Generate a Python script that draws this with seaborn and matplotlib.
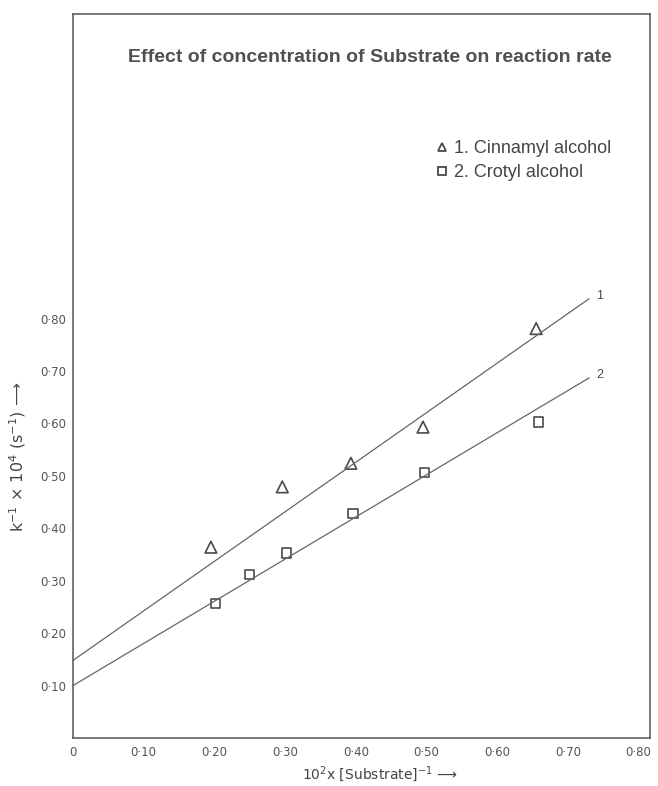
import matplotlib
matplotlib.use("Agg")
import matplotlib.pyplot as plt
from matplotlib.lines import Line2D
import seaborn as sns
import pandas as pd

# ---- data ----
cinnamyl_x = [0.195, 0.296, 0.393, 0.495, 0.655]
cinnamyl_y = [0.364, 0.479, 0.524, 0.593, 0.781]
crotyl_x = [0.202, 0.250, 0.302, 0.396, 0.497, 0.658]
crotyl_y = [0.257, 0.312, 0.353, 0.428, 0.507, 0.603]
line_x = [0.0, 0.730]
line1_y = [0.148, 0.838]
line2_y = [0.100, 0.687]
x_ticks = [0.0, 0.10, 0.20, 0.30, 0.40, 0.50, 0.60, 0.70, 0.80]
x_tick_labels = ["0", "0·10", "0·20", "0·30", "0·40", "0·50", "0·60", "0·70", "0·80"]
y_ticks = [0.10, 0.20, 0.30, 0.40, 0.50, 0.60, 0.70, 0.80]
y_tick_labels = ["0·10", "0·20", "0·30", "0·40", "0·50", "0·60", "0·70", "0·80"]
series_labels = ["1. Cinnamyl alcohol", "2. Crotyl alcohol"]
line_labels = ["1", "2"]

sns.set_style("white")
plt.rcParams["font.family"] = ["Liberation Sans", "DejaVu Sans"]

ink = "#4a4a4a"
fig = plt.figure(figsize=(6.58, 7.86), dpi=100)
ax = fig.add_axes([73 / 658, 1 - 738 / 786, (650 - 73) / 658, (738 - 14) / 786])

df1 = pd.DataFrame({"x": cinnamyl_x, "y": cinnamyl_y})
df2 = pd.DataFrame({"x": crotyl_x, "y": crotyl_y})
dl1 = pd.DataFrame({"x": line_x, "y": line1_y})
dl2 = pd.DataFrame({"x": line_x, "y": line2_y})

sns.lineplot(data=dl1, x="x", y="y", ax=ax, color="#666666", linewidth=0.9)
sns.lineplot(data=dl2, x="x", y="y", ax=ax, color="#666666", linewidth=0.9)
sns.scatterplot(data=df1, x="x", y="y", ax=ax, marker="^", s=70,
                facecolor="none", edgecolor=ink, linewidth=1.2)
sns.scatterplot(data=df2, x="x", y="y", ax=ax, marker="s", s=45,
                facecolor="none", edgecolor=ink, linewidth=1.2)

ax.annotate(line_labels[0], (line_x[-1], line1_y[-1]), xytext=(5, 2),
            textcoords="offset points", fontsize=9, color=ink, va="center")
ax.annotate(line_labels[1], (line_x[-1], line2_y[-1]), xytext=(5, 2),
            textcoords="offset points", fontsize=9, color=ink, va="center")

ax.set_xlim(0, 0.816)
ax.set_ylim(0, 1.381)
ax.set_xticks(x_ticks)
ax.set_xticklabels(x_tick_labels)
ax.set_yticks(y_ticks)
ax.set_yticklabels(y_tick_labels)
ax.tick_params(axis="x", direction="in", length=5, width=0.9, color=ink,
               labelsize=8.5, labelcolor="#555555", pad=6)
ax.tick_params(axis="y", direction="out", length=3, width=0.9, color=ink,
               labelsize=8.5, labelcolor="#555555", pad=2)
for lab in ax.get_xticklabels() + ax.get_yticklabels():
    lab.set_family(["DejaVu Sans"])
ax.set_xlabel("")
ax.set_ylabel("")
for side in ["left", "right", "top", "bottom"]:
    ax.spines[side].set_visible(True)
    ax.spines[side].set_color("#555555")
    ax.spines[side].set_linewidth(1.1)

fig.text(370 / 658, 1 - 58 / 786, "Effect of concentration of Substrate on reaction rate",
         ha="center", va="center", fontsize=14, fontweight="bold", color="#505050")

handles = [
    Line2D([], [], linestyle="none", marker="^", markersize=6, markerfacecolor="none",
           markeredgecolor=ink, markeredgewidth=1.3),
    Line2D([], [], linestyle="none", marker="s", markersize=5.5, markerfacecolor="none",
           markeredgecolor=ink, markeredgewidth=1.3),
]
fig.legend(handles, series_labels, loc="upper left",
           bbox_to_anchor=(427 / 658, 1 - 131 / 786), frameon=False,
           fontsize=13, borderpad=0, handlelength=0.7, handletextpad=0.3,
           labelspacing=0.4, labelcolor="#454545")

fig.text(18 / 658, 1 - 457 / 786, "k$^{-1}$ × 10$^{4}$ (s$^{-1}$) ⟶", rotation=90,
         ha="center", va="center", fontsize=11.5, color="#454545",
         family=["DejaVu Sans"])
fig.text(380 / 658, 1 - 774 / 786, "10$^{2}$x [Substrate]$^{-1}$ ⟶",
         ha="center", va="center", fontsize=10, color="#454545",
         family=["DejaVu Sans"])

fig.savefig("out.png", dpi=100)
